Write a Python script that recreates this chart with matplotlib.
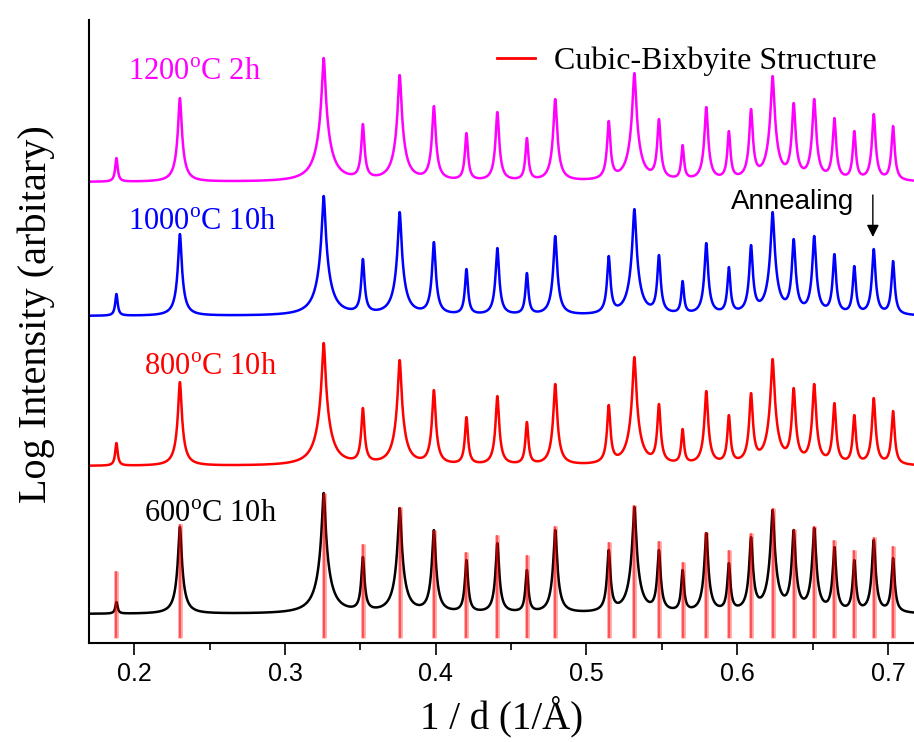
import numpy as np
import matplotlib.pyplot as plt
from matplotlib.lines import Line2D

plt.rcParams['font.family'] = ['Liberation Serif', 'DejaVu Serif']
plt.rcParams['mathtext.fontset'] = 'custom'
plt.rcParams['mathtext.rm'] = 'Liberation Serif'

# --- datos ---
# posiciones de los picos (1/d, 1/Å)
peaks = [0.1882, 0.2303, 0.3257, 0.3517, 0.3761, 0.3988, 0.4204, 0.4409,
         0.4605, 0.4793, 0.5148, 0.5318, 0.5481, 0.5638, 0.5795, 0.5945,
         0.6092, 0.6235, 0.6375, 0.6511, 0.6645, 0.6777, 0.6906, 0.7034]

# altura de cada pico (unidades arbitrarias, con el desplazamiento ya incluido)
h_600 = [41, 116, 150, 86, 135, 113, 83, 100, 73, 113, 93, 136,
         93, 73, 110, 80, 106, 133, 113, 115, 96, 83, 103, 85]
h_800 = [200, 261, 300, 235, 283, 253, 226, 247, 221, 259, 238, 286,
         239, 214, 252, 228, 250, 284, 255, 259, 240, 228, 245, 232]
h_1000 = [349, 409, 447, 384, 431, 401, 374, 395, 370, 407, 387, 434,
          388, 362, 400, 376, 398, 431, 404, 407, 389, 377, 394, 382]
h_1200 = [485, 545, 585, 519, 568, 537, 510, 531, 505, 544, 522, 570,
          524, 498, 536, 512, 534, 567, 540, 544, 525, 512, 529, 517]

# fondo de cada patrón
base_600, base_800, base_1000, base_1200 = 29, 177, 327, 461

# patrón de referencia (Cubic-Bixbyite)
ref_top = [72, 119, 150, 99, 136, 113, 91, 108, 88, 117, 101, 138,
           102, 81, 111, 93, 110, 135, 114, 117, 103, 93, 106, 97]
ref_bottom = 5

labels = ['600$^{\\mathrm{o}}$C 10h', '800$^{\\mathrm{o}}$C 10h',
          '1000$^{\\mathrm{o}}$C 10h', '1200$^{\\mathrm{o}}$C 2h']
colors = ['black', '#FF0000', '#0000FF', '#FF00FF']

# --- perfil (log de una suma de Lorentzianas) ---
K = 60.0        # unidades por década
gamma = 0.0008  # semi-anchura
x = np.linspace(0.17, 0.72, 4000)
p = np.array(peaks)


def lorentz(xx, x0):
    return gamma**2 / (gamma**2 + (xx - x0)**2)


def profile(base, heights):
    target = 10**((np.array(heights) - base) / K) - 1
    M = lorentz(p[:, None], p[None, :])
    a = np.linalg.solve(M, target)
    return base + K * np.log10(1 + lorentz(x[:, None], p[None, :]) @ a)


curves = [profile(base_600, h_600), profile(base_800, h_800),
          profile(base_1000, h_1000), profile(base_1200, h_1200)]

# --- gráfica ---
fig = plt.figure(figsize=(9.14, 7.42), dpi=100)
ax = fig.add_axes([89 / 914, 99 / 742, 825 / 914, 623 / 742])

for y, c in zip(curves, colors):
    ax.plot(x, y, color=c, lw=1.8)

ax.vlines(peaks, ref_bottom, ref_top, color='#FF0000', lw=3.4, alpha=0.35)
ax.vlines(peaks, ref_bottom, ref_top, color='#FF0000', lw=1.5, alpha=0.5)

# etiquetas de cada muestra
ax.text(0.2066, 121, labels[0], color=colors[0], fontsize=22, va='baseline')
ax.text(0.2066, 268, labels[1], color=colors[1], fontsize=22, va='baseline')
ax.text(0.196, 413, labels[2], color=colors[2], fontsize=22, va='baseline')
ax.text(0.196, 563, labels[3], color=colors[3], fontsize=22, va='baseline')

ax.text(0.5957, 434, 'Annealing', fontsize=20, family='Liberation Sans',
        va='baseline')
ax.annotate('', xy=(0.690, 406), xytext=(0.690, 448),
            arrowprops=dict(arrowstyle='-|>', color='black', lw=1,
                            mutation_scale=18, shrinkA=0, shrinkB=0))

handle = Line2D([], [], color='#FF0000', lw=2)
ax.legend([handle], ['Cubic-Bixbyite Structure'], loc='center left',
          bbox_to_anchor=(0.4945, 0.934), frameon=False, fontsize=23,
          handlelength=1.2, handletextpad=0.6, borderpad=0, borderaxespad=0)

ax.set_xlim(0.17, 0.7173)
ax.set_ylim(0, 623)
ax.set_xticks([0.2, 0.3, 0.4, 0.5, 0.6, 0.7])
ax.set_xticks([0.25, 0.35, 0.45, 0.55, 0.65], minor=True)
ax.set_yticks([])
ax.spines['top'].set_visible(False)
ax.spines['right'].set_visible(False)
ax.spines['left'].set_linewidth(1.5)
ax.spines['bottom'].set_linewidth(1.5)
ax.tick_params(axis='x', which='major', length=8.5, width=1.2, labelsize=18,
               labelfontfamily='Liberation Sans', pad=5)
ax.tick_params(axis='x', which='minor', length=5, width=1.2)

ax.set_xlabel('1 / d (1/Å)', fontsize=28, labelpad=7)
ax.set_ylabel('Log Intensity (arbitary)', fontsize=29)
ax.yaxis.set_label_coords(-0.0412, 0.528)

fig.savefig('out.png', dpi=100)
